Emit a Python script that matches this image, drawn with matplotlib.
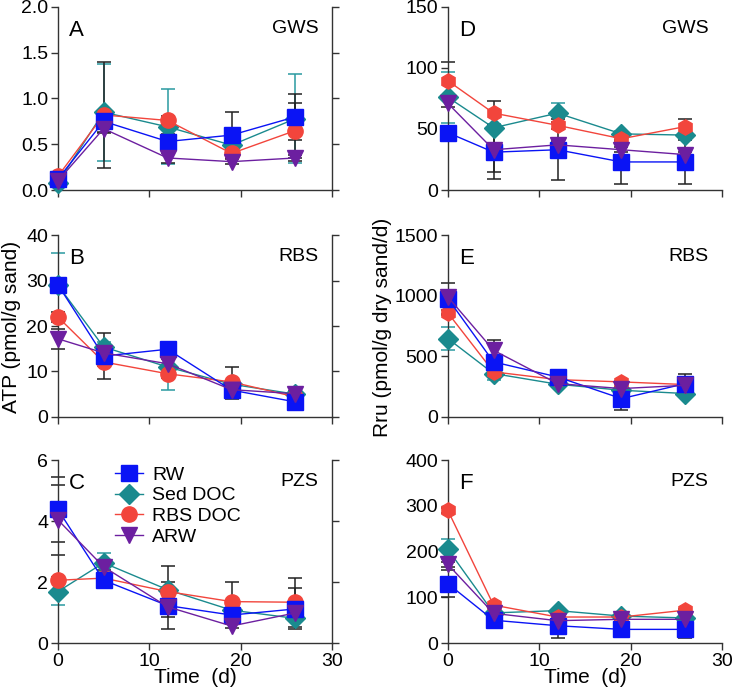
import numpy as np
import matplotlib
matplotlib.use('Agg')
import matplotlib.pyplot as plt

plt.rcParams['font.family'] = ['Liberation Sans', 'DejaVu Sans']

days = [0, 5, 12, 19, 26]
series = ['RW', 'Sed DOC', 'RBS DOC', 'ARW']

### ATP (left column)
atp_gws = {
    'RW':      [0.12, 0.75, 0.53, 0.60, 0.80],
    'Sed DOC': [0.08, 0.85, 0.69, 0.49, 0.78],
    'RBS DOC': [0.15, 0.82, 0.76, 0.40, 0.65],
    'ARW':     [0.10, 0.67, 0.35, 0.31, 0.35],
}
atp_gws_err = {
    'RW':      [0.02, 0.12, 0.08, 0.25, 0.25],
    'Sed DOC': [0.02, 0.53, 0.41, 0.08, 0.49],
    'RBS DOC': [0.02, 0.58, 0.05, 0.05, 0.30],
    'ARW':     [0.02, 0.05, 0.05, 0.03, 0.03],
}
atp_rbs = {
    'RW':      [29.1, 13.4, 14.9, 5.9, 3.3],
    'Sed DOC': [29.0, 15.4, 11.0, 7.2, 5.0],
    'RBS DOC': [22.0, 12.1, 9.5, 7.7, 4.4],
    'ARW':     [17.2, 14.1, 11.7, 6.0, 5.1],
}
atp_rbs_err = {
    'RW':      [1.0, 5.0, 0.8, 2.0, 1.8],
    'Sed DOC': [7.0, 1.0, 5.0, 0.5, 1.5],
    'RBS DOC': [1.0, 1.0, 1.0, 3.3, 0.5],
    'ARW':     [2.2, 1.0, 1.0, 0.5, 0.5],
}
atp_pzs = {
    'RW':      [4.38, 2.06, 1.23, 0.92, 1.12],
    'Sed DOC': [1.69, 2.63, 1.75, 1.08, 0.81],
    'RBS DOC': [2.06, 2.13, 1.69, 1.36, 1.34],
    'ARW':     [4.04, 2.50, 1.19, 0.56, 0.99],
}
atp_pzs_err = {
    'RW':      [1.07, 0.10, 0.78, 0.10, 0.67],
    'Sed DOC': [0.45, 0.31, 0.10, 0.05, 0.05],
    'RBS DOC': [0.10, 0.10, 0.83, 0.64, 0.81],
    'ARW':     [1.14, 0.10, 0.10, 0.05, 0.05],
}

### Rru (right column)
rru_gws = {
    'RW':      [47, 31, 33, 23, 23],
    'Sed DOC': [76, 51, 63, 46, 45],
    'RBS DOC': [89.5, 63, 53, 42, 52],
    'ARW':     [71, 33, 37, 33, 29],
}
rru_gws_err = {
    'RW':      [3, 22, 25, 18, 18],
    'Sed DOC': [21, 3, 8, 2, 2],
    'RBS DOC': [15, 10, 3, 2, 6],
    'ARW':     [3, 18, 3, 2, 2],
}
rru_rbs = {
    'RW':      [977, 454, 330, 151, 275],
    'Sed DOC': [647, 358, 270, 220, 193],
    'RBS DOC': [859, 372, 308, 289, 267],
    'ARW':     [991, 550, 275, 234, 261],
}
rru_rbs_err = {
    'RW':      [125, 40, 20, 96, 80],
    'Sed DOC': [95, 50, 10, 10, 10],
    'RBS DOC': [20, 10, 10, 10, 10],
    'ARW':     [40, 83, 10, 10, 10],
}
rru_pzs = {
    'RW':      [130, 50, 38, 30, 30],
    'Sed DOC': [205, 66, 71, 59, 55],
    'RBS DOC': [290, 83, 57, 57, 72],
    'ARW':     [172, 65, 49, 52, 52],
}
rru_pzs_err = {
    'RW':      [30, 16, 26, 5, 18],
    'Sed DOC': [22, 3, 3, 3, 3],
    'RBS DOC': [5, 3, 3, 3, 3],
    'ARW':     [5, 3, 3, 3, 3],
}

colors = {'RW': '#0a14f5', 'Sed DOC': '#1a8a8e', 'RBS DOC': '#f2453c', 'ARW': '#6c1fa0'}
ecolors = {'RW': '#222222', 'Sed DOC': '#2a9aa0', 'RBS DOC': '#222222', 'ARW': '#222222'}
markers = {'RW': 's', 'Sed DOC': 'D', 'RBS DOC': 'o', 'ARW': 'v'}
msizes = {'RW': 11, 'Sed DOC': 10, 'RBS DOC': 11, 'ARW': 11}
draw_order = ['Sed DOC', 'RBS DOC', 'RW', 'ARW']

fig = plt.figure(figsize=(7.33, 6.96), dpi=100)

lx, rx, w = 0.079, 0.611, 0.374
rows = [(0.727, 0.263), (0.401, 0.261), (0.076, 0.263)]

panels = [
    (lx, rows[0], atp_gws, atp_gws_err, (0, 2.0), [0, 0.5, 1.0, 1.5, 2.0], 'A', 'GWS', True, False, '{:.1f}'),
    (lx, rows[1], atp_rbs, atp_rbs_err, (0, 40), [0, 10, 20, 30, 40], 'B', 'RBS', True, False, '{:.0f}'),
    (lx, rows[2], atp_pzs, atp_pzs_err, (0, 6), [0, 2, 4, 6], 'C', 'PZS', True, True, '{:.0f}'),
    (rx, rows[0], rru_gws, rru_gws_err, (0, 150), [0, 50, 100, 150], 'D', 'GWS', False, False, '{:.0f}'),
    (rx, rows[1], rru_rbs, rru_rbs_err, (0, 1500), [0, 500, 1000, 1500], 'E', 'RBS', False, False, '{:.0f}'),
    (rx, rows[2], rru_pzs, rru_pzs_err, (0, 400), [0, 100, 200, 300, 400], 'F', 'PZS', False, True, '{:.0f}'),
]

handles = {}
for x0, (y0, h), data, err, ylim, yt, letter, site, left, bottom in [p[:10] for p in panels]:
    pass

for p in panels:
    x0, (y0, h), data, err, ylim, yt, letter, site, left, bottom, fmt = p
    ax = fig.add_axes([x0, y0, w, h])
    for name in draw_order:
        mk = markers[name]
        if not left and name == 'RBS DOC':
            mk = 'h'
        ax.errorbar(days, data[name], yerr=err[name], fmt='none', ecolor=ecolors[name],
                    elinewidth=1.1, capsize=5, capthick=1.1, zorder=2)
        ln, = ax.plot(days, data[name], color=colors[name], marker=mk, markersize=msizes[name],
                      linewidth=1.0, zorder=3, label=name)
        handles[name] = ln
    ax.set_xlim(0, 30)
    ax.set_ylim(*ylim)
    ax.set_xticks([0, 10, 20, 30])
    ax.set_yticks(yt)
    ax.set_yticklabels([fmt.format(v) for v in yt])
    ax.spines['top'].set_visible(False)
    ax.spines['right'].set_visible(left)
    for s in ax.spines.values():
        s.set_color('#333333')
        s.set_linewidth(1.0)
    ax.tick_params(direction='out', length=5, width=1, colors='#333333', labelcolor='black',
                   labelsize=14, right=left, labelright=False, labelbottom=bottom, pad=2)
    ax.set_clip_on(False)
    for line in ax.lines:
        line.set_clip_on(False)
    ax.text(0.04, 0.93, letter, transform=ax.transAxes, fontsize=16, va='top', ha='left')
    ax.text(0.95, 0.93, site, transform=ax.transAxes, fontsize=14, va='top', ha='right')
    if letter == 'C':
        ax.legend([handles[n] for n in series], series, loc='upper left',
                  bbox_to_anchor=(0.16, 1.04), frameon=False, fontsize=14,
                  handlelength=1.4, handletextpad=0.5, labelspacing=0.15, borderpad=0.2)
    if bottom:
        ax.set_xlabel('Time  (d)', fontsize=15, labelpad=-1)

fig.text(0.016, 0.53, 'ATP (pmol/g sand)', rotation=90, ha='center', va='center', fontsize=15)
fig.text(0.522, 0.53, 'Rru (pmol/g dry sand/d)', rotation=90, ha='center', va='center', fontsize=15)

fig.savefig('out.png', dpi=100)
